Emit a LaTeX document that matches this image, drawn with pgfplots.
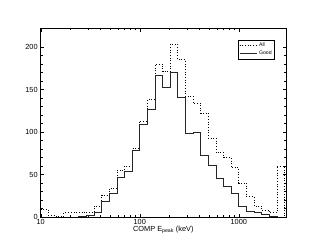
\documentclass[border=0pt]{standalone}
\usepackage{fontspec}
\setmainfont{Liberation Sans}
\usepackage{pgfplots}
\pgfplotsset{compat=1.18}
\begin{document}
\begin{tikzpicture}[x=1bp,y=1bp]
\useasboundingbox (0,0) rectangle (311,249);
\begin{axis}[
  at={(40.7bp,32bp)}, anchor=south west,
  scale only axis, width=245.3bp, height=188.7bp,
  xmode=log, xmin=10, xmax=3000,
  ymin=0, ymax=222,
  ytick={0,50,100,150,200}, minor y tick num=4,
  xtick={10,100,1000},
  log ticks with fixed point,
  /pgf/number format/1000 sep={},
  tick align=inside, tick pos=both,
  major tick length=3.5bp, minor tick length=2bp,
  every tick/.style={black, line width=0.4pt},
  axis line style={line width=0.5pt},
  tick label style={font=\fontsize{7.4}{8.5}\selectfont},
  xticklabel style={yshift=1.5bp},
  yticklabel style={xshift=0.5bp},
  /pgf/number format/assume math mode=true,
  xlabel={COMP E$_{\mathrm{peak}}$ (keV)},
  xlabel style={font=\fontsize{7.4}{8.5}\selectfont, yshift=5bp},
  legend style={at={(0.955,0.94)}, anchor=north east, font=\fontsize{5.2}{6}\selectfont,
    draw=black, line width=0.5pt, inner sep=1pt, row sep=-1pt},
  legend cell align=left,
  legend plot pos=left,
]
\addplot[const plot, black, line width=0.7pt, dotted] coordinates {
(10,9) (11.938,2) (14.251,1) (17.013,5) (20.309,5) (24.245,5) (28.943,6)
(34.551,13) (41.246,26) (49.239,34) (58.780,55) (70.170,60) (83.768,81)
(100,113) (119.38,138) (142.51,180) (170.13,171) (203.09,203) (242.45,185)
(289.43,142) (345.51,134) (412.46,122) (492.39,93) (587.80,76) (701.70,70)
(837.68,58) (1000,40) (1193.8,24) (1425.1,13) (1701.3,8) (2030.9,5)
(2424.5,60) (2894.3,0) (3000,0)
};
\addlegendentry{All}
\addplot[const plot, black!85, line width=0.7pt] coordinates {
(10,0) (11.938,0) (14.251,0) (17.013,0) (20.309,0) (24.245,1) (28.943,2)
(34.551,5) (41.246,19) (49.239,28) (58.780,47) (70.170,54) (83.768,78)
(100,109) (119.38,127) (142.51,167) (170.13,153) (203.09,170) (242.45,141)
(289.43,98) (345.51,99) (412.46,73) (492.39,61) (587.80,45) (701.70,36)
(837.68,28) (1000,12) (1193.8,7) (1425.1,5) (1701.3,3) (2030.9,1)
(2424.5,0) (2894.3,0) (3000,0)
};
\addlegendentry{Good}
\end{axis}
\end{tikzpicture}
\end{document}
